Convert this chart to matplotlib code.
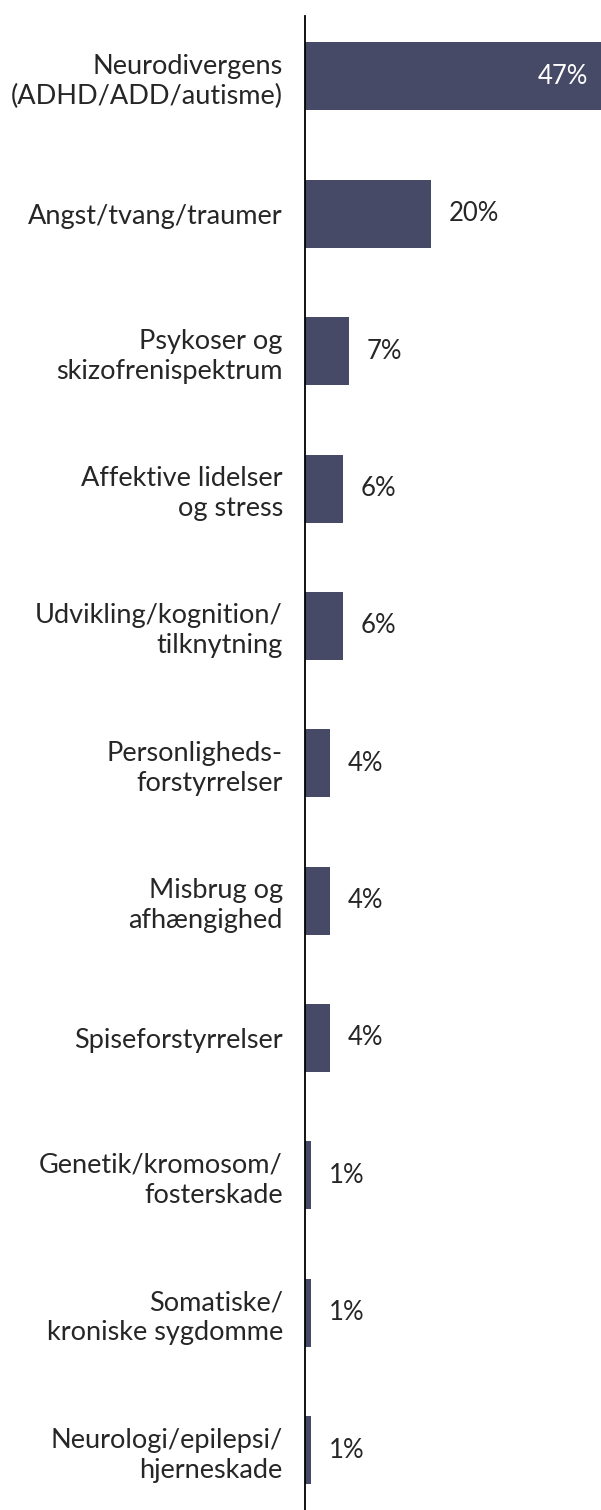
import matplotlib
matplotlib.use("Agg")
import matplotlib.pyplot as plt

categories = [
    "Neurodivergens\n(ADHD/ADD/autisme)",
    "Angst/tvang/traumer",
    "Psykoser og\nskizofrenispektrum",
    "Affektive lidelser\nog stress",
    "Udvikling/kognition/\ntilknytning",
    "Personligheds-\nforstyrrelser",
    "Misbrug og\nafhængighed",
    "Spiseforstyrrelser",
    "Genetik/kromosom/\nfosterskade",
    "Somatiske/\nkroniske sygdomme",
    "Neurologi/epilepsi/\nhjerneskade",
]
values = [47, 20, 7, 6, 6, 4, 4, 4, 1, 1, 1]
labels = ["47%", "20%", "7%", "6%", "6%", "4%", "4%", "4%", "1%", "1%", "1%"]

bar_color = "#474A66"
text_color = "#262626"
plt.rcParams['font.family'] = ['Lato', 'DejaVu Sans']

fig = plt.figure(figsize=(6.01, 15.10), dpi=100)
ax = fig.add_axes([0.5075, -0.0058, 0.4925, 1511 / 1510])

y = list(range(len(categories)))
ax.barh(y, values, height=0.495, color=bar_color)
ax.set_ylim(len(categories) - 0.5, -0.5)
ax.set_xlim(0, 47)

for i, (v, lab) in enumerate(zip(values, labels)):
    if v > 30:
        ax.text(v - 2.1, i, lab, ha="right", va="center", color="white", fontsize=18.5)
    else:
        ax.text(v + 2.8, i, lab, ha="left", va="center", color=text_color, fontsize=18.5)

ax.set_yticks(y)
ax.set_yticklabels(categories, fontsize=19.5, color=text_color, linespacing=1.25,
                   ha="right", multialignment="right")
ax.tick_params(axis="y", length=0, pad=16)
ax.set_xticks([])
for side in ["top", "right", "bottom"]:
    ax.spines[side].set_visible(False)
ax.spines["left"].set_linewidth(1.3)
ax.spines["left"].set_color("black")
ax.spines["left"].set_bounds(len(categories) - 0.5, -0.44)

fig.savefig("out.png", dpi=100)
